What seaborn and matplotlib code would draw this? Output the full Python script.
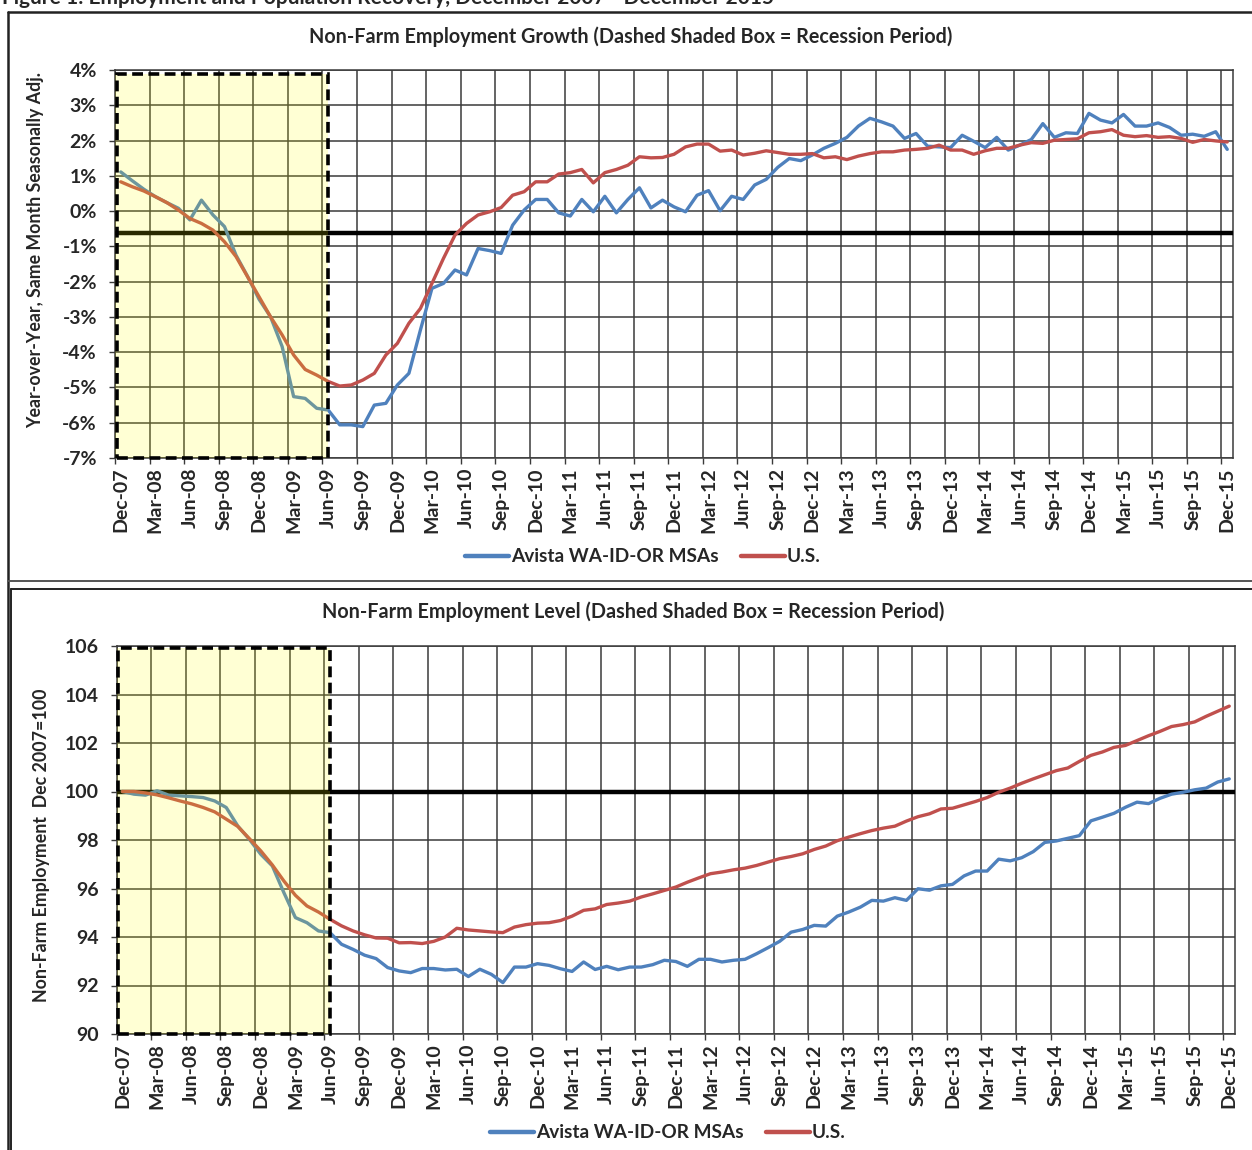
"""Non-farm employment growth and level, Avista MSAs vs U.S., Dec 2007 - Dec 2015."""
import numpy as np
import pandas as pd
import matplotlib
matplotlib.use("Agg")
import matplotlib.pyplot as plt
from matplotlib.lines import Line2D
from matplotlib.patches import Rectangle
import seaborn as sns

sns.set_theme(style="white")
plt.rcParams['font.family'] = ['Lato', 'DejaVu Sans']
plt.rcParams['font.weight'] = 'bold'
plt.rcParams['axes.unicode_minus'] = False

W, H = 1252, 1150
BLUE, RED = "#4F81BD", "#C0504D"
SERIES = ["Avista WA-ID-OR MSAs", "U.S."]

# quarterly tick labels, Dec-07 .. Dec-15
tick_labels = ["Dec-07", "Mar-08", "Jun-08", "Sep-08", "Dec-08", "Mar-09", "Jun-09", "Sep-09",
               "Dec-09", "Mar-10", "Jun-10", "Sep-10", "Dec-10", "Mar-11", "Jun-11", "Sep-11",
               "Dec-11", "Mar-12", "Jun-12", "Sep-12", "Dec-12", "Mar-13", "Jun-13", "Sep-13",
               "Dec-13", "Mar-14", "Jun-14", "Sep-14", "Dec-14", "Mar-15", "Jun-15", "Sep-15",
               "Dec-15"]

# year-over-year growth, %
avista_yoy = [1.11, 0.86, 0.62, 0.41, 0.24, 0.08, -0.25, 0.31, -0.11, -0.44,
              -1.25, -1.85, -2.50, -3.00, -3.84, -5.26, -5.31, -5.59, -5.64, -6.06,
              -6.06, -6.11, -5.50, -5.45, -4.93, -4.60, -3.37, -2.19, -2.05, -1.67,
              -1.81, -1.06, -1.12, -1.20, -0.40, 0.03, 0.33, 0.33, -0.05, -0.14,
              0.33, -0.02, 0.42, -0.05, 0.33, 0.66, 0.09, 0.31, 0.12, -0.02,
              0.45, 0.58, 0.01, 0.42, 0.33, 0.74, 0.90, 1.24, 1.49, 1.43,
              1.59, 1.78, 1.92, 2.09, 2.41, 2.63, 2.53, 2.41, 2.06, 2.20,
              1.84, 1.82, 1.80, 2.15, 1.98, 1.80, 2.09, 1.73, 1.87, 2.03,
              2.48, 2.09, 2.22, 2.20, 2.77, 2.58, 2.50, 2.74, 2.41, 2.41,
              2.50, 2.37, 2.15, 2.18, 2.12, 2.25, 1.75]
us_yoy = [0.83, 0.69, 0.57, 0.41, 0.24, 0.03, -0.21, -0.35, -0.54, -0.87,
          -1.29, -1.86, -2.43, -3.00, -3.51, -4.08, -4.49, -4.65, -4.83, -4.96,
          -4.93, -4.79, -4.60, -4.08, -3.75, -3.18, -2.76, -2.05, -1.34, -0.68,
          -0.35, -0.11, -0.02, 0.10, 0.45, 0.55, 0.83, 0.83, 1.05, 1.09,
          1.18, 0.80, 1.09, 1.18, 1.30, 1.54, 1.51, 1.52, 1.61, 1.82,
          1.90, 1.90, 1.70, 1.73, 1.59, 1.64, 1.71, 1.66, 1.61, 1.61,
          1.63, 1.51, 1.54, 1.46, 1.56, 1.63, 1.68, 1.68, 1.73, 1.75,
          1.78, 1.87, 1.73, 1.73, 1.61, 1.71, 1.78, 1.78, 1.87, 1.94,
          1.92, 2.01, 2.03, 2.05, 2.22, 2.25, 2.31, 2.15, 2.11, 2.14,
          2.09, 2.11, 2.06, 1.95, 2.03, 1.99, 1.96]

# employment level index, Dec 2007 = 100
avista_idx = [100.00, 99.89, 99.85, 100.03, 99.85, 99.82, 99.79, 99.75, 99.61, 99.34,
              98.58, 98.03, 97.41, 96.93, 95.83, 94.80, 94.59, 94.25, 94.18, 93.70,
              93.49, 93.25, 93.11, 92.74, 92.60, 92.53, 92.70, 92.70, 92.64, 92.67,
              92.37, 92.67, 92.46, 92.12, 92.76, 92.76, 92.90, 92.83, 92.69, 92.58,
              92.97, 92.66, 92.79, 92.65, 92.76, 92.76, 92.86, 93.04, 92.99, 92.79,
              93.08, 93.08, 92.97, 93.04, 93.08, 93.31, 93.56, 93.82, 94.20, 94.31,
              94.48, 94.45, 94.86, 95.03, 95.23, 95.51, 95.48, 95.62, 95.51, 95.99,
              95.93, 96.11, 96.17, 96.52, 96.72, 96.72, 97.21, 97.14, 97.27, 97.52,
              97.90, 97.96, 98.07, 98.18, 98.79, 98.94, 99.10, 99.35, 99.56, 99.50,
              99.72, 99.89, 99.97, 100.07, 100.14, 100.39, 100.52]
us_idx = [100.00, 100.00, 99.94, 99.86, 99.74, 99.61, 99.49, 99.34, 99.16, 98.86,
          98.56, 98.06, 97.55, 96.97, 96.31, 95.72, 95.28, 95.03, 94.73, 94.46,
          94.25, 94.09, 93.96, 93.95, 93.76, 93.77, 93.73, 93.82, 94.00, 94.36,
          94.29, 94.25, 94.21, 94.18, 94.41, 94.51, 94.57, 94.59, 94.68, 94.86,
          95.10, 95.16, 95.34, 95.40, 95.48, 95.65, 95.78, 95.92, 96.06, 96.26,
          96.44, 96.61, 96.68, 96.77, 96.84, 96.95, 97.09, 97.23, 97.32, 97.43,
          97.61, 97.75, 97.97, 98.12, 98.26, 98.39, 98.49, 98.57, 98.78, 98.96,
          99.08, 99.28, 99.31, 99.45, 99.59, 99.75, 99.97, 100.14, 100.34, 100.52,
          100.69, 100.86, 100.97, 101.24, 101.49, 101.63, 101.82, 101.90, 102.10, 102.30,
          102.48, 102.68, 102.76, 102.87, 103.10, 103.31, 103.52]

RECESSION_END = 18   # Jun-09 index
TICK_FS = 14


def long_df(a, b):
    n = len(a)
    pos = np.arange(n) + 0.5
    return pd.DataFrame({"pos": np.concatenate([pos, pos]),
                         "value": np.concatenate([a, b]),
                         "series": [SERIES[0]] * n + [SERIES[1]] * n})


def px_axes(l, t, r, b):
    return [l / W, 1 - b / H, (r - l) / W, (b - t) / H]


def style_axes(ax, ylo, yhi, ystep, yfmt, hline, box_top):
    n = len(avista_yoy)
    ax.set_xlim(0, n)
    ax.set_ylim(ylo, yhi)
    yt = np.arange(ylo, yhi + ystep / 2, ystep)
    ax.set_yticks(yt, [yfmt(v) for v in yt])
    ax.set_xticks(np.arange(0, n, 3), minor=True)
    ax.set_xticks(np.arange(0, n, 3) + 0.5, tick_labels)
    ax.grid(True, which="minor", axis="x", color="#3a3a3a", lw=1.1)
    ax.grid(True, which="major", axis="y", color="#3a3a3a", lw=1.1)
    ax.grid(False, which="major", axis="x")
    ax.tick_params(axis="x", which="major", length=0, pad=7, labelsize=TICK_FS, rotation=90)
    ax.tick_params(axis="x", which="minor", length=4, width=1, color="#3a3a3a", direction="out",
                   bottom=True)
    ax.tick_params(axis="y", length=4, width=1, color="#3a3a3a", pad=9, labelsize=TICK_FS, left=True)
    for lab in ax.get_xticklabels() + ax.get_yticklabels():
        lab.set_fontweight("bold")
    for s in ax.spines.values():
        s.set_color("#3a3a3a")
        s.set_linewidth(1.1)
    ax.set_xlabel("")
    ax.set_ylabel("")
    ax.axhline(hline, color="black", lw=3.2, zorder=3)
    # recession box: translucent yellow over lines, dashed black outline
    ax.add_patch(Rectangle((0, ylo), RECESSION_END + 0.5, box_top - ylo, facecolor="#FFFF00",
                           alpha=0.17, edgecolor="none", zorder=5))
    ax.add_patch(Rectangle((0.15, ylo), RECESSION_END + 0.35, box_top - ylo, fill=False,
                           edgecolor="black", lw=2.6, linestyle=(0, (3, 1.5)), zorder=6,
                           clip_on=False))


fig = plt.figure(figsize=(W / 100, H / 100), dpi=100)
pal = {SERIES[0]: BLUE, SERIES[1]: RED}

ax1 = fig.add_axes(px_axes(115, 70, 1233, 458))
sns.lineplot(data=long_df(avista_yoy, us_yoy), x="pos", y="value", hue="series",
             palette=pal, lw=2.4, legend=False, ax=ax1, zorder=4)
style_axes(ax1, -7, 4, 1, lambda v: f"{int(round(v))}%", -0.63, 3.9)

ax2 = fig.add_axes(px_axes(116.7, 646, 1235, 1034))
sns.lineplot(data=long_df(avista_idx, us_idx), x="pos", y="value", hue="series",
             palette=pal, lw=2.4, legend=False, ax=ax2, zorder=4)
style_axes(ax2, 90, 106, 2, lambda v: f"{int(round(v))}", 100, 105.9)

# titles, axis labels
fig.text(2 / W, 1 - 4 / H, "Figure 1: Employment and Population Recovery, December 2007 - December 2015",
         ha="left", va="baseline", fontsize=15, fontweight="bold")
fig.text(631 / W, 1 - 37 / H, "Non-Farm Employment Growth (Dashed Shaded Box = Recession Period)",
         ha="center", va="center", fontsize=14.2, fontweight="bold")
fig.text(633 / W, 1 - 612 / H, "Non-Farm Employment Level (Dashed Shaded Box = Recession Period)",
         ha="center", va="center", fontsize=14.2, fontweight="bold")
fig.text(36 / W, 1 - 250 / H, "Year-over-Year, Same Month Seasonally Adj.", rotation=90,
         ha="center", va="center", fontsize=12.8, fontweight="bold")
fig.text(42 / W, 1 - 845 / H, "Non-Farm Employment  Dec 2007=100", rotation=90,
         ha="center", va="center", fontsize=12.8, fontweight="bold")

handles = [Line2D([], [], color=BLUE, lw=3.2), Line2D([], [], color=RED, lw=3.2)]
for xc, yc in [(643, 557), (668, 1133)]:
    fig.legend(handles, SERIES, loc="center", bbox_to_anchor=(xc / W, 1 - yc / H), ncol=2,
               frameon=False, handlelength=2.3, handletextpad=0.1, columnspacing=1.2,
               prop={"weight": "bold", "size": 13.7})

# outer panel frames
def fline(x0, y0, x1, y1, lw=1.6, color="#222222"):
    fig.add_artist(Line2D([x0 / W, x1 / W], [1 - y0 / H, 1 - y1 / H], lw=lw, color=color,
                          transform=fig.transFigure))

fline(7.5, 12, 7.5, H, lw=1.8)
fline(7.5, 12, W, 12, lw=1.8)
fline(7.5, 580.5, W, 580.5, lw=1.4, color="#555555")
fline(10.8, 589, W, 589, lw=1.4)
fline(10.8, 589, 10.8, H, lw=1.4)

fig.savefig("out.png", dpi=100)
